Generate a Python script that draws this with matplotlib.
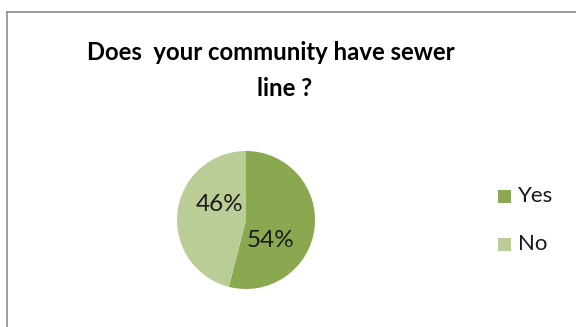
import matplotlib.pyplot as plt
from matplotlib.lines import Line2D
from matplotlib.patches import Rectangle

labels = ['Yes', 'No']
values = [54, 46]
colors = ['#8AA84F', '#BACD96']

W, H = 576, 327
fig = plt.figure(figsize=(W / 100, H / 100), dpi=100)
fig.patch.set_facecolor('white')

# chart area border (top and left edges visible)
fig.add_artist(Line2D([7 / W, 7 / W], [0, 1 - 12 / H], color='#8c8c8c', lw=1.2))
fig.add_artist(Line2D([7 / W, 1], [1 - 12 / H, 1 - 12 / H], color='#8c8c8c', lw=1.2))

fig.text(271 / W, 1 - 53 / H, 'Does  your community have sewer', ha='center', va='center',
         fontsize=17.2, fontweight='bold', family='Lato', color='black')
fig.text(285 / W, 1 - 89 / H, 'line ?', ha='center', va='center',
         fontsize=17.2, fontweight='bold', family='Lato', color='black')

# pie axes: center (246,220), radius 69 px
r = 69
ax = fig.add_axes([(246 - r) / W, 1 - (220 + r) / H, 2 * r / W, 2 * r / H])
wedges, _ = ax.pie(values, colors=colors, startangle=90, counterclock=False,
                   radius=1.0, wedgeprops=dict(linewidth=0))
ax.set_xlim(-1, 1)
ax.set_ylim(-1, 1)
ax.axis('off')

# percentage labels
ax.text(0.36, -0.29, f'{values[0]}%', ha='center', va='center', fontsize=17.5,
        family='Lato', color='#1a1a1a')
ax.text(-0.38, 0.22, f'{values[1]}%', ha='center', va='center', fontsize=17.5,
        family='Lato', color='#1a1a1a')

# legend
for i, (lab, c) in enumerate(zip(labels, colors)):
    yc = 195.5 + 48.5 * i
    fig.add_artist(Rectangle((498 / W, 1 - (yc + 7) / H), 13 / W, 13 / H,
                             transform=fig.transFigure, color=c, lw=0))
    fig.text(518 / W, 1 - yc / H, lab, ha='left', va='center', fontsize=16,
             family='Lato', color='#1a1a1a')

fig.savefig('out.png', dpi=100)
